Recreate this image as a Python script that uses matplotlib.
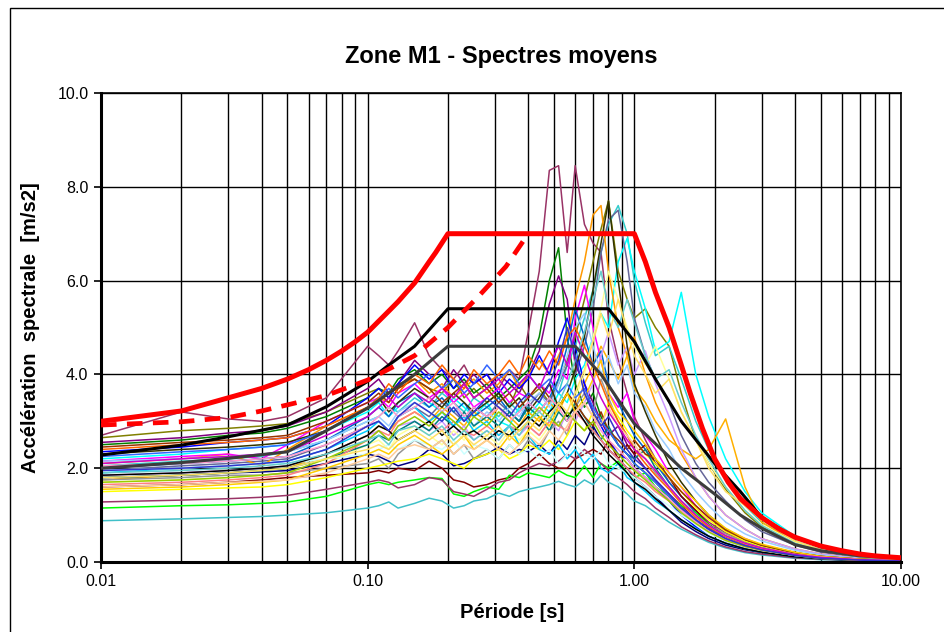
import numpy as np
import matplotlib
matplotlib.use("Agg")
import matplotlib.pyplot as plt
from matplotlib.ticker import LogLocator, NullFormatter
from matplotlib.patches import Rectangle

plt.rcParams['font.family'] = ['Liberation Sans', 'DejaVu Sans']

# ---------------- data ----------------
periods = [0.01, 0.02, 0.03, 0.04, 0.05, 0.07, 0.10, 0.11, 0.12, 0.13,
           0.15, 0.17, 0.19, 0.21, 0.23, 0.25, 0.28, 0.31, 0.34, 0.37,
           0.40, 0.44, 0.48, 0.52, 0.56, 0.60, 0.65, 0.70, 0.75, 0.80,
           0.87, 0.94, 1.00, 1.10, 1.20, 1.35, 1.50, 1.70, 1.90, 2.20,
           2.60, 3.00, 4.00, 5.00, 7.00, 10.0]

s01 = [2.70, 3.20, 3.05, 3.00, 3.10, 3.50, 4.60, 4.40, 4.20, 4.50, 5.10, 4.40, 4.10, 3.90, 4.20, 3.80, 4.00, 3.70, 4.10, 3.90, 4.90, 6.20, 8.35, 8.45, 6.60, 8.45, 7.20, 6.80, 6.60, 5.20, 4.30, 3.60, 3.10, 2.60, 2.20, 1.70, 1.40, 1.10, 0.85, 0.62, 0.45, 0.34, 0.19, 0.12, 0.06, 0.03]
s02 = [2.65, 2.80, 2.85, 2.90, 2.95, 3.20, 3.60, 3.70, 3.50, 3.80, 3.90, 3.70, 3.60, 3.90, 3.50, 3.70, 3.40, 3.60, 3.30, 3.80, 3.50, 3.70, 3.40, 3.90, 4.30, 4.80, 5.60, 6.40, 7.10, 7.70, 6.20, 5.60, 5.20, 5.40, 5.00, 4.60, 3.60, 2.60, 2.10, 1.55, 1.05, 0.75, 0.40, 0.24, 0.12, 0.06]
s03 = [2.05, 2.15, 2.20, 2.25, 2.35, 2.60, 3.00, 3.10, 3.30, 3.20, 3.50, 3.30, 3.60, 3.40, 3.20, 3.50, 3.30, 3.10, 3.40, 3.20, 3.60, 3.40, 3.80, 3.60, 4.20, 4.60, 5.20, 5.80, 6.60, 7.20, 7.60, 7.00, 6.00, 5.10, 4.40, 4.60, 3.90, 3.00, 2.40, 1.80, 1.20, 0.85, 0.45, 0.26, 0.12, 0.06]
s04 = [2.20, 2.30, 2.40, 2.45, 2.50, 2.80, 3.20, 3.40, 3.10, 3.30, 3.60, 3.40, 3.20, 3.50, 3.30, 3.10, 3.40, 3.00, 2.90, 3.30, 3.10, 3.40, 3.20, 3.60, 3.40, 3.90, 4.20, 4.80, 5.30, 5.00, 6.40, 6.90, 6.20, 5.40, 4.50, 4.70, 5.75, 4.00, 3.10, 2.20, 1.50, 1.05, 0.55, 0.30, 0.14, 0.07]
s05 = [1.95, 2.05, 2.10, 2.15, 2.20, 2.50, 2.90, 3.00, 2.80, 3.10, 3.30, 3.10, 3.40, 3.20, 3.00, 3.30, 3.10, 3.40, 3.20, 3.00, 3.30, 3.60, 3.40, 3.80, 4.20, 4.00, 4.60, 5.40, 6.60, 7.30, 7.50, 6.40, 5.20, 4.40, 3.90, 3.40, 2.70, 2.10, 1.70, 1.30, 0.90, 0.65, 0.36, 0.21, 0.10, 0.05]
s06 = [2.50, 2.60, 2.70, 2.75, 2.85, 3.10, 3.50, 3.70, 3.60, 3.90, 4.10, 3.80, 4.00, 3.70, 3.90, 3.60, 3.80, 3.50, 3.70, 3.90, 4.10, 4.80, 6.00, 6.70, 4.80, 3.80, 3.30, 3.60, 3.10, 2.80, 2.50, 2.30, 2.10, 1.90, 1.70, 1.40, 1.10, 0.85, 0.70, 0.55, 0.40, 0.30, 0.17, 0.11, 0.05, 0.03]
s07 = [2.55, 2.65, 2.75, 2.80, 2.90, 3.20, 3.70, 3.90, 3.60, 3.80, 4.30, 4.00, 3.70, 4.10, 3.80, 4.00, 3.70, 4.00, 3.80, 3.60, 4.00, 4.50, 5.50, 6.10, 5.60, 4.20, 3.80, 3.40, 3.00, 2.70, 2.90, 2.50, 2.30, 2.00, 1.75, 1.45, 1.20, 0.90, 0.72, 0.55, 0.40, 0.30, 0.17, 0.10, 0.05, 0.03]
s08 = [2.10, 2.20, 2.30, 2.05, 2.40, 2.90, 3.30, 3.50, 3.40, 3.70, 3.90, 3.60, 3.80, 3.50, 3.70, 3.90, 3.60, 3.80, 4.10, 3.70, 4.00, 4.30, 4.00, 4.40, 4.80, 5.60, 6.40, 7.40, 7.60, 6.20, 5.00, 4.40, 4.80, 4.00, 3.40, 2.80, 2.30, 1.80, 1.40, 1.00, 0.70, 0.50, 0.28, 0.17, 0.08, 0.04]
s09 = [1.75, 1.85, 1.90, 1.95, 2.00, 2.30, 2.70, 2.90, 2.80, 3.00, 3.20, 3.00, 3.30, 3.10, 2.90, 3.20, 3.00, 3.30, 3.10, 2.90, 3.20, 3.00, 3.40, 3.20, 3.60, 3.30, 3.80, 4.20, 4.60, 4.30, 3.90, 4.40, 3.70, 3.40, 3.00, 2.60, 2.40, 2.20, 2.40, 3.05, 1.60, 0.85, 0.42, 0.25, 0.12, 0.06]
s10 = [2.35, 2.45, 2.55, 2.60, 2.65, 2.90, 3.50, 3.70, 3.50, 3.80, 4.20, 3.90, 4.10, 3.70, 4.00, 3.80, 4.00, 3.60, 3.90, 3.70, 3.90, 4.40, 4.00, 4.70, 5.20, 4.60, 3.80, 3.20, 2.90, 2.60, 2.30, 2.20, 2.00, 1.80, 1.60, 1.30, 1.00, 0.75, 0.55, 0.40, 0.28, 0.21, 0.12, 0.08, 0.04, 0.02]
s11 = [2.15, 2.25, 2.30, 2.20, 2.50, 3.00, 3.40, 3.50, 3.30, 3.60, 3.80, 3.50, 3.70, 3.40, 3.60, 3.30, 3.50, 3.70, 3.40, 3.60, 3.50, 3.80, 3.60, 4.10, 3.90, 5.20, 5.90, 5.00, 4.30, 3.60, 3.30, 3.60, 3.00, 2.70, 2.40, 1.90, 1.60, 1.20, 0.95, 0.70, 0.50, 0.36, 0.20, 0.12, 0.06, 0.03]
s12 = [2.00, 2.10, 2.15, 2.20, 2.25, 2.60, 3.10, 3.30, 3.10, 3.40, 3.60, 3.30, 3.50, 3.20, 3.40, 3.10, 3.30, 3.50, 3.20, 3.00, 3.40, 3.20, 3.50, 3.90, 4.60, 5.40, 4.80, 4.20, 4.50, 3.80, 3.40, 3.00, 2.70, 2.40, 2.10, 1.70, 1.40, 1.05, 0.80, 0.55, 0.40, 0.28, 0.15, 0.09, 0.04, 0.02]
s13 = [1.85, 1.90, 1.95, 2.00, 2.05, 2.30, 2.70, 2.80, 2.60, 2.90, 3.00, 2.80, 3.00, 2.70, 2.90, 2.60, 2.80, 2.60, 2.90, 2.70, 2.90, 2.70, 3.00, 2.80, 3.20, 3.00, 3.40, 3.80, 4.40, 4.90, 4.20, 4.60, 4.00, 4.50, 3.80, 3.10, 2.40, 1.80, 1.40, 1.00, 0.70, 0.50, 0.28, 0.17, 0.08, 0.04]
s14 = [1.70, 1.75, 1.80, 1.85, 1.90, 2.10, 2.50, 2.60, 2.40, 2.70, 2.90, 2.70, 2.50, 2.80, 2.60, 2.90, 2.70, 2.50, 2.80, 2.60, 2.80, 2.60, 2.90, 3.20, 3.00, 3.50, 4.00, 4.80, 5.40, 6.20, 5.60, 5.00, 4.60, 4.20, 4.60, 3.90, 3.20, 2.60, 2.10, 1.60, 1.10, 0.80, 0.42, 0.25, 0.12, 0.06]
s15 = [2.15, 2.20, 2.25, 2.30, 2.35, 2.60, 3.00, 3.10, 2.90, 3.20, 3.40, 3.20, 3.00, 3.30, 3.10, 2.90, 3.20, 3.00, 3.30, 3.10, 3.40, 3.60, 3.30, 3.80, 4.40, 5.00, 5.30, 4.60, 4.00, 4.40, 3.80, 4.20, 3.60, 3.30, 2.80, 2.40, 1.90, 1.50, 1.20, 0.85, 0.60, 0.45, 0.25, 0.15, 0.07, 0.04]
s16 = [1.75, 1.80, 1.85, 1.85, 1.90, 2.00, 2.10, 2.20, 2.00, 2.30, 2.60, 2.40, 2.60, 2.30, 2.50, 2.20, 2.40, 2.20, 2.50, 2.30, 2.60, 2.40, 2.80, 3.00, 2.70, 3.30, 3.60, 3.20, 3.90, 3.50, 3.00, 2.70, 2.40, 2.20, 1.90, 1.60, 1.30, 1.00, 0.80, 0.60, 0.42, 0.31, 0.17, 0.10, 0.05, 0.03]
s17 = [1.60, 1.65, 1.70, 1.75, 1.80, 1.85, 1.90, 1.95, 1.90, 2.00, 1.95, 2.15, 2.00, 1.75, 1.70, 1.60, 1.65, 1.75, 1.80, 2.00, 2.10, 2.30, 2.10, 2.00, 2.00, 2.20, 2.30, 2.40, 2.30, 2.60, 2.20, 2.50, 2.30, 2.50, 2.10, 1.80, 1.40, 1.10, 0.80, 0.55, 0.40, 0.30, 0.17, 0.10, 0.05, 0.03]
s18 = [1.80, 1.85, 1.90, 1.92, 1.95, 2.10, 2.30, 2.25, 2.15, 2.05, 2.15, 2.40, 2.30, 2.05, 2.10, 2.20, 2.30, 2.45, 2.30, 2.40, 2.35, 2.50, 2.30, 2.60, 2.40, 2.70, 2.50, 2.90, 2.60, 2.40, 2.20, 2.00, 1.80, 1.60, 1.40, 1.10, 0.85, 0.65, 0.50, 0.36, 0.26, 0.20, 0.11, 0.07, 0.04, 0.02]
s19 = [1.15, 1.20, 1.22, 1.25, 1.28, 1.40, 1.65, 1.70, 1.65, 1.70, 1.75, 1.80, 1.78, 1.45, 1.40, 1.50, 1.60, 1.55, 1.85, 1.80, 1.90, 1.85, 1.80, 1.95, 1.85, 1.80, 2.05, 1.80, 2.10, 2.00, 2.15, 1.90, 1.80, 1.90, 1.60, 1.40, 1.20, 1.05, 0.80, 0.55, 0.40, 0.30, 0.16, 0.10, 0.05, 0.03]
s20 = [0.88, 0.92, 0.95, 0.97, 1.00, 1.05, 1.15, 1.20, 1.28, 1.15, 1.25, 1.36, 1.30, 1.15, 1.20, 1.30, 1.35, 1.47, 1.40, 1.50, 1.55, 1.60, 1.65, 1.72, 1.65, 1.60, 1.75, 1.65, 1.85, 1.70, 1.60, 1.45, 1.30, 1.20, 1.05, 0.85, 0.70, 0.55, 0.42, 0.30, 0.20, 0.15, 0.08, 0.05, 0.03, 0.02]
s21 = [1.28, 1.32, 1.35, 1.38, 1.42, 1.55, 1.70, 1.75, 1.70, 1.58, 1.65, 1.80, 1.75, 1.50, 1.45, 1.40, 1.55, 1.70, 1.75, 1.90, 2.00, 2.10, 2.05, 2.15, 2.30, 2.20, 2.40, 2.25, 2.10, 1.95, 1.80, 1.65, 1.50, 1.35, 1.15, 0.95, 0.75, 0.58, 0.45, 0.32, 0.22, 0.17, 0.09, 0.06, 0.03, 0.02]
s22 = [1.50, 1.55, 1.58, 1.60, 1.65, 1.80, 2.00, 2.05, 2.10, 2.15, 2.20, 2.30, 2.20, 2.10, 2.00, 2.20, 2.30, 2.40, 2.20, 2.30, 2.50, 2.40, 2.60, 2.40, 2.70, 3.00, 2.80, 3.20, 2.90, 3.40, 3.10, 2.80, 2.60, 2.30, 2.10, 1.80, 1.50, 1.15, 0.90, 0.65, 0.45, 0.34, 0.19, 0.11, 0.05, 0.03]
s23 = [1.80, 1.85, 1.90, 1.95, 2.00, 2.20, 2.50, 2.70, 2.60, 2.80, 3.00, 2.80, 3.10, 2.90, 3.20, 2.90, 3.10, 2.90, 3.20, 3.00, 3.30, 3.10, 2.80, 3.20, 3.00, 3.40, 3.10, 2.80, 2.60, 2.90, 2.50, 2.30, 2.20, 2.40, 2.00, 1.60, 1.30, 1.00, 0.75, 0.55, 0.38, 0.28, 0.15, 0.09, 0.04, 0.02]
s24 = [1.65, 1.70, 1.75, 1.80, 1.85, 2.10, 2.60, 2.80, 2.70, 3.00, 3.20, 3.00, 2.80, 3.00, 2.80, 2.70, 2.90, 2.70, 2.90, 2.80, 2.90, 2.70, 3.00, 2.90, 2.80, 3.20, 3.00, 2.80, 2.60, 2.40, 2.20, 2.00, 1.85, 1.70, 1.50, 1.30, 1.10, 0.85, 0.65, 0.45, 0.32, 0.24, 0.13, 0.08, 0.04, 0.02]
s25 = [1.90, 2.00, 2.05, 2.10, 2.15, 2.40, 2.80, 3.00, 2.80, 3.10, 3.30, 3.00, 3.20, 2.90, 3.10, 2.80, 3.00, 2.70, 2.90, 2.50, 2.70, 2.40, 2.30, 2.50, 2.20, 2.40, 2.10, 2.30, 2.00, 1.90, 2.10, 1.80, 1.70, 1.50, 1.30, 1.10, 0.90, 0.72, 0.55, 0.40, 0.28, 0.21, 0.11, 0.07, 0.03, 0.02]
s26 = [1.95, 2.00, 2.05, 2.10, 2.10, 2.20, 2.30, 2.40, 2.50, 2.40, 2.60, 2.50, 2.40, 2.60, 2.30, 2.50, 2.40, 2.20, 2.50, 2.30, 2.40, 2.20, 2.40, 2.10, 2.30, 2.50, 2.30, 2.20, 2.40, 2.10, 2.00, 1.90, 1.80, 1.60, 1.40, 1.20, 1.00, 0.80, 0.62, 0.45, 0.32, 0.24, 0.13, 0.08, 0.04, 0.02]
s27 = [2.30, 2.40, 2.45, 2.50, 2.55, 2.80, 3.30, 3.50, 3.20, 3.40, 3.70, 3.50, 3.30, 3.60, 3.40, 3.20, 3.40, 3.60, 3.30, 3.50, 3.20, 3.50, 3.80, 3.30, 3.60, 4.10, 4.80, 5.80, 6.80, 7.70, 6.00, 4.60, 3.80, 3.20, 2.70, 2.10, 1.70, 1.30, 1.00, 0.70, 0.48, 0.36, 0.20, 0.12, 0.06, 0.03]
s28 = [2.45, 2.55, 2.60, 2.65, 2.70, 3.00, 3.40, 3.60, 3.40, 3.70, 3.90, 3.70, 3.40, 3.60, 3.80, 3.50, 3.70, 3.40, 3.60, 3.30, 3.50, 3.80, 3.50, 3.30, 3.60, 3.40, 3.10, 2.90, 3.20, 2.80, 2.60, 2.40, 2.60, 2.30, 2.20, 1.80, 1.50, 1.20, 0.95, 0.68, 0.48, 0.36, 0.20, 0.12, 0.06, 0.03]
s29 = [1.85, 1.90, 1.95, 2.00, 2.05, 2.30, 2.70, 2.90, 2.80, 2.60, 2.80, 3.00, 2.70, 2.90, 2.70, 2.80, 2.60, 2.80, 2.70, 2.90, 3.10, 2.90, 3.20, 3.40, 3.10, 3.30, 3.00, 2.70, 2.50, 2.30, 2.10, 1.90, 1.70, 1.55, 1.35, 1.10, 0.90, 0.70, 0.55, 0.40, 0.28, 0.21, 0.11, 0.07, 0.03, 0.02]
s30 = [1.55, 1.60, 1.65, 1.70, 1.75, 2.00, 2.30, 2.40, 2.30, 2.50, 2.70, 2.50, 2.30, 2.50, 2.70, 2.40, 2.60, 2.40, 2.70, 2.50, 2.80, 3.10, 2.90, 3.30, 3.60, 3.20, 3.50, 3.90, 4.30, 3.60, 3.20, 3.00, 2.80, 2.50, 2.20, 1.90, 1.60, 1.30, 1.00, 0.72, 0.50, 0.38, 0.21, 0.12, 0.06, 0.03]
s31 = [2.05, 2.10, 2.15, 2.20, 2.25, 2.50, 2.90, 3.10, 3.30, 3.10, 3.30, 3.50, 3.20, 3.40, 3.10, 3.30, 3.10, 3.30, 3.00, 3.20, 3.40, 3.20, 3.50, 3.30, 3.00, 3.20, 3.40, 3.10, 2.80, 2.60, 2.40, 2.20, 2.00, 1.80, 1.60, 1.35, 1.10, 0.85, 0.66, 0.47, 0.33, 0.25, 0.14, 0.08, 0.04, 0.02]
s32 = [2.25, 2.35, 2.40, 2.45, 2.50, 2.80, 3.30, 3.50, 3.70, 3.50, 3.80, 4.00, 3.70, 3.90, 3.60, 3.80, 4.20, 3.90, 4.10, 3.80, 4.00, 3.70, 3.90, 3.60, 3.80, 3.50, 3.70, 3.30, 3.00, 2.80, 2.50, 2.30, 2.10, 1.90, 1.70, 1.40, 1.15, 0.90, 0.70, 0.50, 0.35, 0.26, 0.14, 0.09, 0.04, 0.02]
s33 = [1.70, 1.75, 1.80, 1.85, 1.90, 2.20, 2.60, 2.80, 2.60, 2.90, 3.10, 2.90, 3.20, 3.00, 2.80, 3.10, 2.90, 3.20, 3.00, 2.80, 3.00, 3.30, 3.10, 2.90, 3.20, 3.00, 2.80, 3.00, 2.70, 2.50, 2.30, 2.10, 1.95, 1.75, 1.55, 1.30, 1.05, 0.82, 0.64, 0.46, 0.33, 0.25, 0.14, 0.08, 0.04, 0.02]
s34 = [2.40, 2.50, 2.55, 2.60, 2.65, 2.90, 3.30, 3.50, 3.80, 3.60, 4.00, 3.80, 4.20, 3.90, 3.70, 4.10, 3.80, 4.00, 4.30, 4.00, 4.40, 4.10, 4.50, 4.20, 4.80, 5.00, 4.60, 4.20, 3.80, 3.40, 3.00, 2.70, 2.40, 2.10, 1.85, 1.55, 1.25, 0.95, 0.75, 0.54, 0.38, 0.28, 0.15, 0.09, 0.04, 0.02]
s35 = [1.60, 1.65, 1.70, 1.72, 1.75, 1.90, 2.20, 2.30, 2.20, 2.40, 2.50, 2.40, 2.60, 2.30, 2.50, 2.40, 2.60, 2.40, 2.30, 2.50, 2.70, 2.50, 2.80, 2.60, 2.90, 3.20, 3.40, 3.10, 2.90, 3.30, 2.90, 2.70, 2.50, 2.20, 1.95, 1.60, 1.30, 1.00, 0.78, 0.56, 0.40, 0.30, 0.16, 0.10, 0.05, 0.03]
s36 = [2.10, 2.20, 2.25, 2.30, 2.35, 2.70, 3.10, 3.30, 3.50, 3.30, 3.60, 3.40, 3.70, 3.50, 3.80, 3.50, 3.70, 3.90, 3.60, 3.80, 4.00, 3.70, 4.20, 4.60, 4.20, 4.90, 4.40, 3.90, 3.50, 3.20, 2.90, 2.60, 2.40, 2.20, 1.95, 1.60, 1.30, 1.00, 0.78, 0.56, 0.40, 0.30, 0.16, 0.10, 0.05, 0.03]
s37 = [1.90, 1.95, 2.00, 2.05, 2.10, 2.30, 2.60, 2.70, 2.50, 2.80, 2.90, 2.70, 2.90, 2.60, 2.80, 2.60, 2.80, 2.60, 2.90, 2.70, 3.00, 3.20, 3.00, 3.40, 3.80, 4.30, 4.90, 5.60, 6.20, 5.40, 5.00, 5.60, 5.10, 4.40, 3.90, 4.10, 3.40, 2.70, 2.20, 1.60, 1.10, 0.78, 0.40, 0.24, 0.11, 0.06]
s38 = [1.95, 2.00, 2.05, 2.10, 2.15, 2.40, 2.90, 3.00, 2.80, 3.10, 3.40, 3.20, 3.00, 3.30, 3.00, 3.20, 3.50, 3.30, 3.10, 3.40, 3.60, 3.40, 3.80, 4.30, 5.00, 4.40, 3.60, 3.20, 2.90, 3.10, 2.70, 2.40, 2.20, 2.00, 1.75, 1.45, 1.15, 0.90, 0.70, 0.50, 0.35, 0.26, 0.14, 0.08, 0.04, 0.02]
s39 = [1.80, 1.85, 1.90, 1.95, 2.00, 2.20, 2.40, 2.50, 2.40, 2.60, 2.80, 2.60, 2.80, 2.50, 2.70, 2.50, 2.70, 2.90, 2.60, 2.80, 3.00, 2.80, 3.10, 3.40, 3.20, 3.60, 4.10, 4.70, 5.30, 4.80, 5.60, 4.90, 4.40, 4.00, 3.60, 3.90, 3.20, 2.60, 2.00, 1.50, 1.20, 0.90, 0.45, 0.26, 0.12, 0.06]

spectra_colors = ['#993366', '#808000', '#33CCCC', '#00FFFF', '#666699', '#008000', '#800080',
                  '#FF9900', '#FFB000', '#0000FF', '#FF00FF', '#0066CC', '#CC99FF', '#FFFF99',
                  '#99CCFF', '#969696', '#800000', '#000080', '#00FF00', '#40C0C8', '#993366',
                  '#FFFF00', '#008080', '#FF8080', '#00CCFF', '#CCFFFF', '#333300', '#993300',
                  '#000000', '#FFCC00', '#FF99CC', '#3366FF', '#99CC00', '#FF6600', '#FFCC99',
                  '#CC00CC', '#66CCCC', '#3333CC', '#FFE066']

# design spectra
red_T = [0.01, 0.02, 0.03, 0.04, 0.05, 0.06, 0.07, 0.08, 0.09, 0.10, 0.12, 0.13, 0.15, 0.17,
         0.18, 0.20, 1.00, 1.10, 1.20, 1.35, 1.50, 1.62, 1.80, 2.00, 2.25, 2.50, 3.00, 3.50,
         4.00, 5.00, 6.00, 7.00, 8.00, 10.0]
red_Sa = [3.00, 3.22, 3.50, 3.70, 3.90, 4.10, 4.30, 4.50, 4.70, 4.90, 5.35, 5.55, 5.95, 6.40,
          6.60, 7.00, 7.00, 6.40, 5.75, 5.00, 4.20, 3.60, 2.85, 2.20, 1.70, 1.35, 0.95, 0.70,
          0.53, 0.34, 0.24, 0.17, 0.13, 0.09]
dash_T = [0.01, 0.02, 0.03, 0.04, 0.05, 0.07, 0.10, 0.15, 0.20, 0.26, 0.33, 0.40]
dash_Sa = [2.92, 2.99, 3.08, 3.22, 3.35, 3.55, 3.88, 4.40, 5.00, 5.66, 6.30, 7.00]
black_T = [0.01, 0.02, 0.03, 0.05, 0.07, 0.10, 0.12, 0.15, 0.20, 0.80, 1.00, 1.20, 1.50,
           2.00, 2.50, 3.00, 4.00, 5.00, 6.00, 8.00, 10.0]
black_Sa = [2.28, 2.49, 2.67, 2.92, 3.31, 3.85, 4.20, 4.60, 5.40, 5.40, 4.70, 3.90, 3.00,
            2.10, 1.50, 0.95, 0.52, 0.33, 0.23, 0.13, 0.09]
gray_T = [0.01, 0.02, 0.03, 0.05, 0.07, 0.10, 0.12, 0.15, 0.20, 0.60, 0.75, 1.00, 1.50,
          2.00, 2.50, 3.00, 4.00, 5.00, 7.00, 10.0]
gray_Sa = [2.00, 2.12, 2.21, 2.35, 2.80, 3.28, 3.60, 4.00, 4.60, 4.60, 4.00, 2.95, 2.00,
           1.45, 1.00, 0.72, 0.37, 0.24, 0.13, 0.08]

x_ticks = [0.01, 0.1, 1.0, 10.0]
x_ticklabels = ['0.01', '0.10', '1.00', '10.00']
y_ticks = [0, 2, 4, 6, 8, 10]
y_ticklabels = ['0.0', '2.0', '4.0', '6.0', '8.0', '10.0']

# ---------------- figure ----------------
W, H = 944, 632
fig = plt.figure(figsize=(W / 100, H / 100), dpi=100)
fig.patches.append(Rectangle((10 / W, -0.1), 2.0, 1.1 - 7.5 / H, transform=fig.transFigure,
                             fill=False, ec='black', lw=1.0))

ax = fig.add_axes([101 / W, (H - 562) / H, 800 / W, 469 / H])
ax.set_xscale('log')

series = [s01, s02, s03, s04, s05, s06, s07, s08, s09, s10, s11, s12, s13, s14, s15, s16, s17, s18,
          s19, s20, s21, s22, s23, s24, s25, s26, s27, s28, s29, s30, s31, s32, s33, s34, s35,
          s36, s37, s38, s39]
for vals, col in zip(series, spectra_colors):
    ax.plot(periods, vals, color=col, lw=1.1, zorder=2)

ax.plot(gray_T, gray_Sa, color='#3c3c3c', lw=2.2, zorder=4)
ax.plot(black_T, black_Sa, color='black', lw=2.2, zorder=4)
ax.plot(dash_T, dash_Sa, color='#FF0000', lw=3.4, dashes=(3.3, 2.2), zorder=5)
ax.plot(red_T, red_Sa, color='#FF0000', lw=3.6, zorder=6, solid_capstyle='butt')

ax.set_xlim(0.01, 10)
ax.set_ylim(0, 10)
ax.set_xticks(x_ticks)
ax.set_xticklabels(x_ticklabels, fontsize=11.5)
ax.xaxis.set_minor_locator(LogLocator(base=10, subs=range(2, 10)))
ax.xaxis.set_minor_formatter(NullFormatter())
ax.set_yticks(y_ticks)
ax.set_yticklabels(y_ticklabels, fontsize=11.5)
ax.tick_params(axis='both', which='major', direction='out', length=5, width=1.2, pad=4)
ax.tick_params(axis='x', which='minor', length=0)
ax.grid(axis='x', which='both', color='black', lw=1.0, zorder=1)
ax.grid(axis='y', which='major', color='black', lw=1.0, zorder=1)
ax.set_axisbelow(True)
for side in ['left', 'bottom']:
    ax.spines[side].set_linewidth(2.2)
for side in ['top', 'right']:
    ax.spines[side].set_linewidth(1.2)

fig.text(501 / W, 1 - 57 / H, 'Zone M1 - Spectres moyens', ha='center', va='center',
         fontsize=17, fontweight='bold')
fig.text(512 / W, 1 - 612 / H, 'Période [s]', ha='center', va='center',
         fontsize=14.5, fontweight='bold')
fig.text(31 / W, 1 - 328 / H, 'Accélération  spectrale  [m/s2]', ha='center', va='center',
         rotation=90, fontsize=14.5, fontweight='bold')

fig.savefig('out.png', dpi=100)
